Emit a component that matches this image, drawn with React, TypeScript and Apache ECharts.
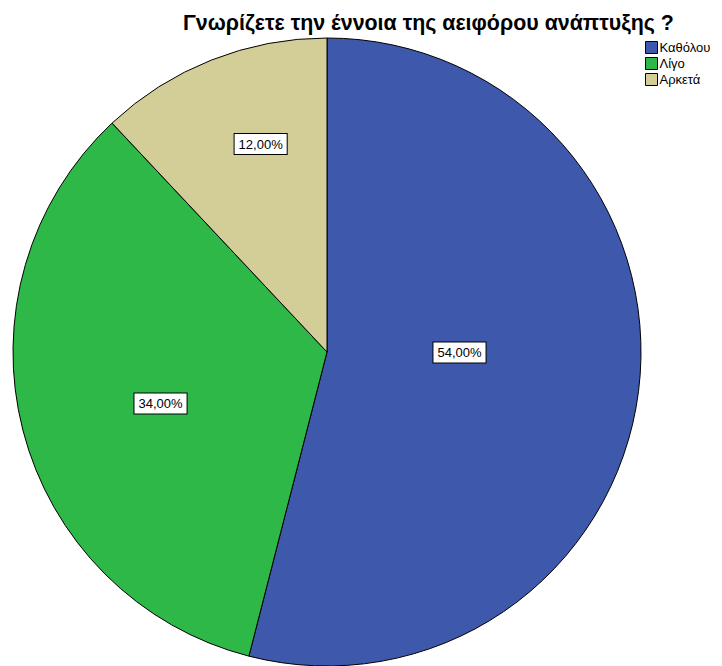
import React, { useEffect, useRef } from "react";
import * as echarts from "echarts";

const title = "Γνωρίζετε την έννοια της αειφόρου ανάπτυξης ?";
const categories = ["Καθόλου", "Λίγο", "Αρκετά"];
const percents = [54, 34, 12];
const colors = ["#3e58ac", "#2eb848", "#d3ce98"];

// label placement: [fraction of radius, angle tweak in degrees]
const labelPolar: [number, number][] = [
  [0.422, 7],
  [0.555, 2.8],
  [0.695, -3.9],
];

const CX = 327;
const CY = 352;
const R = 314;

export default function App() {
  const ref = useRef<HTMLDivElement>(null);
  useEffect(() => {
    if (!ref.current) return;
    const chart = echarts.init(ref.current, null, { renderer: "svg" });
    const total = percents.reduce((a, b) => a + b, 0);
    const mids: number[] = [];
    let acc = 0;
    percents.forEach((v) => {
      mids.push(90 - ((acc + v / 2) / total) * 360);
      acc += v;
    });
    chart.setOption({
      animation: false,
      backgroundColor: "#ffffff",
      title: {
        text: title,
        left: 183,
        top: 12,
        padding: 0,
        textStyle: {
          fontFamily: "Liberation Sans, Arial, sans-serif",
          fontWeight: "bold",
          fontSize: 21.4,
          color: "#000",
        },
      },
      legend: {
        orient: "vertical",
        left: 645,
        top: 41,
        padding: 0,
        itemWidth: 12,
        itemHeight: 12,
        itemGap: 3,
        icon: "rect",
        textStyle: {
          fontFamily: "Liberation Sans, Arial, sans-serif",
          fontSize: 13,
          color: "#000",
          padding: [0, 0, 0, -3],
        },
        itemStyle: { borderColor: "#000", borderWidth: 1 },
        data: categories,
      },
      series: [
        {
          type: "pie",
          center: [CX, CY],
          radius: [0, R],
          startAngle: 90,
          clockwise: true,
          silent: true,
          data: categories.map((c, i) => ({
            name: c,
            value: percents[i],
            itemStyle: { color: colors[i] },
          })),
          itemStyle: { borderColor: "#000", borderWidth: 1 },
          labelLine: { show: false },
          label: {
            show: true,
            position: "inside",
            formatter: (p: any) => p.value.toFixed(2).replace(".", ",") + "%",
            fontFamily: "Liberation Sans, Arial, sans-serif",
            fontSize: 13,
            color: "#000",
            backgroundColor: "#fff",
            borderColor: "#000",
            borderWidth: 1,
            padding: [4, 4, 3, 4],
            align: "center",
            verticalAlign: "middle",
          },
          labelLayout: (p: any) => {
            const i = p.dataIndex;
            const [f, d] = labelPolar[i];
            const a = ((mids[i] + d) * Math.PI) / 180;
            return {
              x: CX + Math.cos(a) * R * f,
              y: CY - Math.sin(a) * R * f,
            };
          },
        },
      ],
    });
    return () => chart.dispose();
  }, []);
  return (
    <div
      ref={ref}
      style={{ position: "fixed", left: 0, top: 0, width: 722, height: 666 }}
    />
  );
}
